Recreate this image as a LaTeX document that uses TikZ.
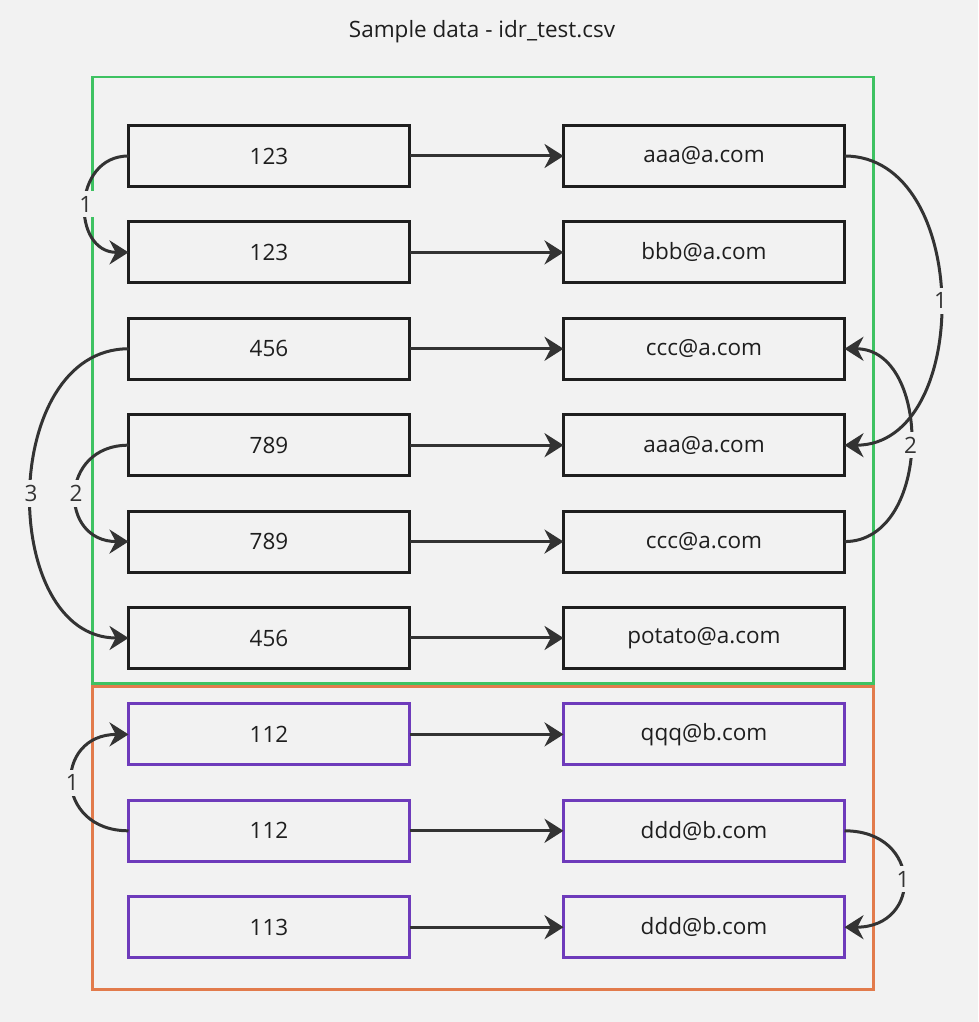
\documentclass[tikz,border=0pt]{standalone}
\usepackage{fontspec}
\setmainfont{Open Sans}
\usetikzlibrary{positioning,arrows.meta}

\definecolor{bgcol}{HTML}{F2F2F2}
\definecolor{inkcol}{HTML}{1E1E1E}
\definecolor{linecol}{HTML}{333333}
\definecolor{greencol}{HTML}{3EC262}
\definecolor{orangecol}{HTML}{E27B4C}
\definecolor{purplecol}{HTML}{6E3BBB}

\tikzset{
  rec/.style={draw=inkcol, line width=3pt, minimum width=281pt, minimum height=61pt,
    inner sep=0pt, outer sep=0pt, text=inkcol, font=\fontsize{22.5}{27}\selectfont},
  recb/.style={rec, draw=purplecol},
  link/.style={draw=linecol, line width=3pt, -{Stealth[length=19pt,width=24pt]}},
  num/.style={fill=bgcol, inner xsep=2pt, inner ysep=5pt, text=linecol, font=\fontsize{22.5}{27}\selectfont},
}

\begin{document}
\begin{tikzpicture}[x=1pt, y=1pt, node distance=35.4pt]
  \fill[bgcol] (0,0) rectangle (978,1022);
  \useasboundingbox (0,0) rectangle (978,1022);

  \node[text=inkcol, font=\fontsize{22.5}{27}\selectfont] (title) at (482,990) {Sample data - idr\_test.csv};

  \draw[greencol, line width=2.6pt] (92.7,945) rectangle (873.3,338.3);
  \draw[orangecol, line width=2.6pt] (92.7,335.7) rectangle (873.3,32.7);

  \node[rec] (l1) at (269,866) {123};
  \node[rec, below=of l1] (l2) {123};
  \node[rec, below=of l2] (l3) {456};
  \node[rec, below=of l3] (l4) {789};
  \node[rec, below=of l4] (l5) {789};
  \node[rec, below=of l5] (l6) {456};
  \node[recb, below=of l6] (l7) {112};
  \node[recb, below=of l7] (l8) {112};
  \node[recb, below=of l8] (l9) {113};

  \node[rec, right=154pt of l1] (r1) {aaa@a.com};
  \node[rec, right=154pt of l2] (r2) {bbb@a.com};
  \node[rec, right=154pt of l3] (r3) {ccc@a.com};
  \node[rec, right=154pt of l4] (r4) {aaa@a.com};
  \node[rec, right=154pt of l5] (r5) {ccc@a.com};
  \node[rec, right=154pt of l6] (r6) {potato@a.com};
  \node[recb, right=154pt of l7] (r7) {qqq@b.com};
  \node[recb, right=154pt of l8] (r8) {ddd@b.com};
  \node[recb, right=154pt of l9] (r9) {ddd@b.com};

  \foreach \i in {1,...,9}
    \draw[link] (l\i.east) -- (r\i.west);

  \draw[link] (l1.west) .. controls ([xshift=-57pt]l1.west) and ([xshift=-57pt]l2.west) .. node[num] {1} (l2.west);
  \draw[link] (l4.west) .. controls ([xshift=-70pt]l4.west) and ([xshift=-70pt]l5.west) .. node[num] {2} (l5.west);
  \draw[link] (l3.west) .. controls ([xshift=-130pt]l3.west) and ([xshift=-130pt]l6.west) .. node[num] {3} (l6.west);
  \draw[link] (l8.west) .. controls ([xshift=-75pt]l8.west) and ([xshift=-75pt]l7.west) .. node[num] {1} (l7.west);

  \draw[link] (r1.east) .. controls ([xshift=128pt]r1.east) and ([xshift=128pt]r4.east) .. node[num] {1} (r4.east);
  \draw[link] (r5.east) .. controls ([xshift=88pt]r5.east) and ([xshift=88pt]r3.east) .. node[num] {2} (r3.east);
  \draw[link] (r8.east) .. controls ([xshift=78pt]r8.east) and ([xshift=78pt]r9.east) .. node[num] {1} (r9.east);
\end{tikzpicture}
\end{document}
